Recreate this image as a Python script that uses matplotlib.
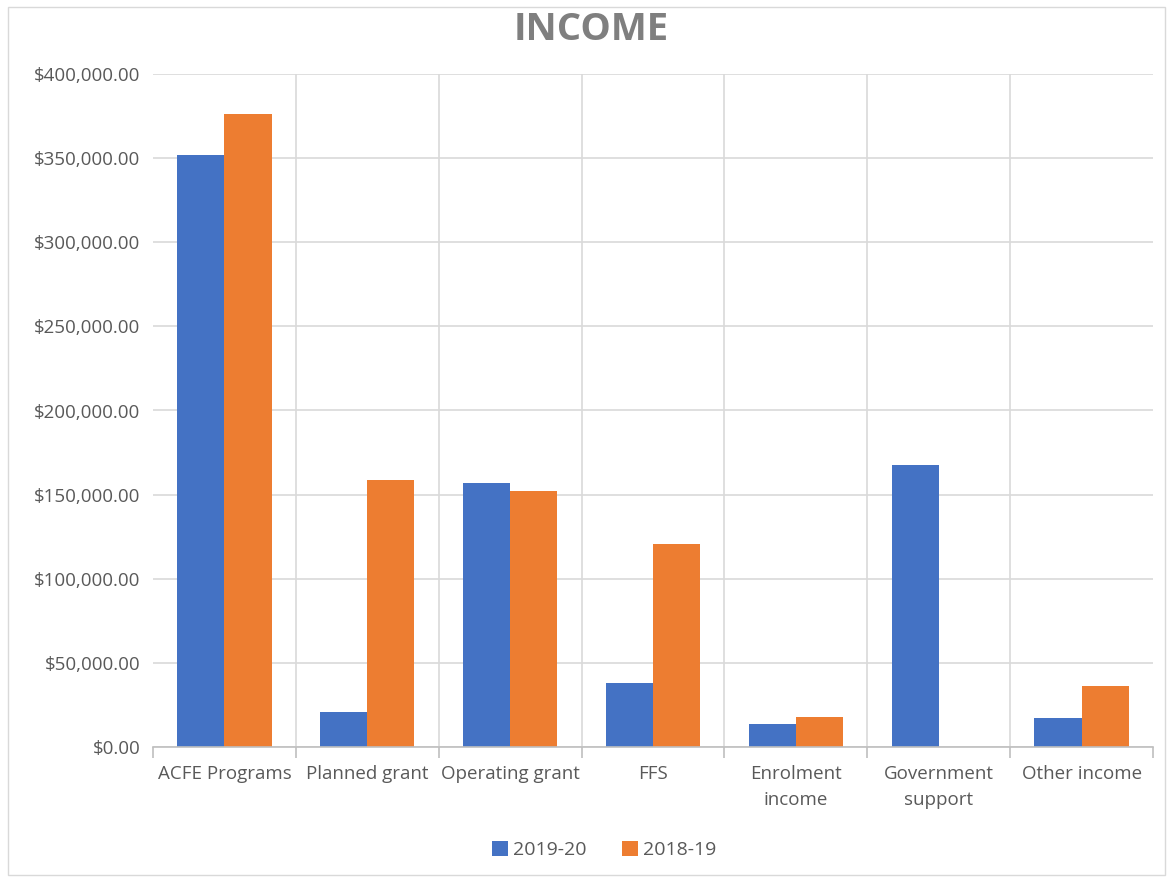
import matplotlib
matplotlib.use("Agg")
import matplotlib.pyplot as plt
from matplotlib.patches import Rectangle
from matplotlib.ticker import FuncFormatter, FixedLocator

categories = ["ACFE Programs", "Planned grant", "Operating grant", "FFS",
              "Enrolment\nincome", "Government\nsupport", "Other income"]
series_names = ["2019-20", "2018-19"]
values_2019_20 = [352000, 21000, 157000, 38000, 13700, 167500, 17200]
values_2018_19 = [376000, 158500, 152000, 120500, 17800, 0, 36300]
y_ticks = [0, 50000, 100000, 150000, 200000, 250000, 300000, 350000, 400000]

blue = "#4472C4"
orange = "#ED7D31"
grid_c = "#D9D9D9"
text_c = "#595959"

plt.rcParams['font.family'] = ['Open Sans', 'DejaVu Sans']

fig = plt.figure(figsize=(11.72, 8.82), dpi=100)
fig.patches.append(Rectangle((8/1172, 7/882), 1157/1172, 868/882, transform=fig.transFigure,
                             fill=False, edgecolor="#D9D9D9", linewidth=1))
ax = fig.add_axes([153/1172, 1-747/882, 1000/1172, 673/882])

n = len(categories)
x = list(range(n))
w = 0.33
ax.bar([i - w/2 for i in x], values_2019_20, width=w, color=blue, label=series_names[0], zorder=3)
ax.bar([i + w/2 for i in x], values_2018_19, width=w, color=orange, label=series_names[1], zorder=3)

ax.set_xlim(-0.5, n - 0.5)
ax.set_ylim(0, 400000)
ax.set_yticks(y_ticks)
ax.yaxis.set_major_formatter(FuncFormatter(lambda v, p: "${:,.2f}".format(v)))
ax.yaxis.grid(True, color=grid_c, linewidth=1.2, zorder=0)
for b in range(1, n):
    ax.axvline(b - 0.5, color=grid_c, linewidth=1.2, zorder=0)

ax.set_xticks(x)
ax.set_xticklabels(categories, linespacing=1.55)
ax.xaxis.set_minor_locator(FixedLocator([i - 0.5 for i in range(n + 1)]))
ax.tick_params(axis='x', which='major', length=0, pad=13, labelsize=13.5, labelcolor=text_c)
ax.tick_params(axis='x', which='minor', length=8, color="#BFBFBF", width=1.2)
ax.tick_params(axis='y', length=0, pad=9, labelsize=13.5, labelcolor=text_c)

for s in ['top', 'right', 'left']:
    ax.spines[s].set_visible(False)
ax.spines['bottom'].set_color("#BFBFBF")
ax.spines['bottom'].set_linewidth(1.2)
ax.spines['bottom'].set_zorder(4)

fig.text(591/1172, 1-30/882, "INCOME", ha='center', va='center', fontsize=27.5,
         fontweight='bold', color="#7F7F7F")

fig.legend(loc='center', bbox_to_anchor=(604/1172, 1-850/882), ncol=2, frameon=False,
           fontsize=14, labelcolor=text_c, handlelength=0.85, handleheight=0.85,
           handletextpad=0.25, columnspacing=1.8)

fig.savefig("out.png", dpi=100)
